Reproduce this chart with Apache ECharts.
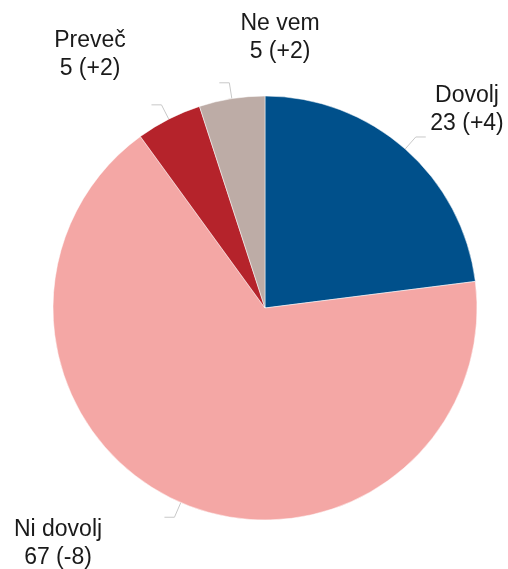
<!DOCTYPE html>
<html><head><meta charset="utf-8">
<script src="https://cdn.jsdelivr.net/npm/echarts@6/dist/echarts.min.js"></script>
<style>html,body{margin:0;padding:0;background:#fff}#c{width:508px;height:569px}</style>
</head><body><div id="c"></div>
<script>
const categories = ['Dovolj', 'Ni dovolj', 'Preveč', 'Ne vem'];
const values = [23, 67, 5, 5];
const changes = ['+4', '-8', '+2', '+2'];
const colors = ['#00508b', '#f4a7a5', '#b5232b', '#bdaca6'];
// label anchor positions (layout only)
const labelPos = [[467, 110], [58, 544], [90, 55], [280, 38]];

const chart = echarts.init(document.getElementById('c'));
chart.setOption({
  animation: false,
  series: [{
    type: 'pie',
    center: [265, 308],
    radius: 212,
    startAngle: 90,
    clockwise: true,
    avoidLabelOverlap: false,
    itemStyle: { borderColor: '#fff', borderWidth: 0.5 },
    label: {
      show: true,
      position: 'outside',
      fontFamily: 'Liberation Sans, Arial, sans-serif',
      fontSize: 23,
      color: '#1a1a1a',
      lineHeight: 28,
      align: 'center',
      formatter: p => p.name + '\n' + p.value + ' (' + changes[p.dataIndex] + ')'
    },
    labelLayout: p => ({
      x: labelPos[p.dataIndex][0], y: labelPos[p.dataIndex][1],
      align: 'center', verticalAlign: 'middle',
      labelLinePoints: p.labelLinePoints
    }),
    labelLine: { show: true, length: 16, length2: 10, lineStyle: { color: '#c8c8c8', width: 1 } },
    data: categories.map((c, i) => ({ name: c, value: values[i], itemStyle: { color: colors[i] } }))
  }]
});
</script></body></html>
